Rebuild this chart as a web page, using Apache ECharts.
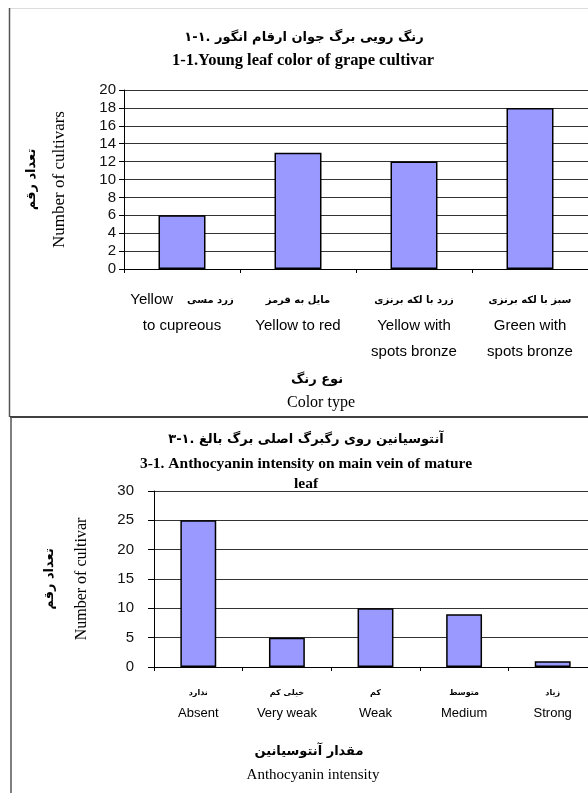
<!DOCTYPE html>
<html><head><meta charset="utf-8">
<script src="https://cdn.jsdelivr.net/npm/echarts@6/dist/echarts.min.js"></script>
<style>html,body{margin:0;padding:0;background:#fff;}#c{width:588px;height:793px;}</style>
</head><body><div id="c"></div>
<script>
// ---- data ----
const colorTypeFa = ['زرد مسی', 'مایل به قرمز', 'زرد با لکه برنزی', 'سبز با لکه برنزی'];
const colorTypeEn = ['Yellow\nto cupreous', 'Yellow to red', 'Yellow with\nspots bronze', 'Green with\nspots bronze'];
const colorTypeCounts = [6, 13, 12, 18];

const anthoFa = ['ندارد', 'خیلی کم', 'کم', 'متوسط', 'زیاد'];
const anthoEn = ['Absent', 'Very weak', 'Weak', 'Medium', 'Strong'];
const anthoCounts = [25, 5, 10, 9, 1];

const yTicks1 = [0, 2, 4, 6, 8, 10, 12, 14, 16, 18, 20];
const yTicks2 = [0, 5, 10, 15, 20, 25, 30];

const title1Fa = '۱-۱. رنگ رویی برگ جوان ارقام انگور';
const title1En = '1-1.Young leaf color of grape cultivar';
const title2Fa = '۳-۱. آنتوسیانین روی رگبرگ اصلی برگ بالغ';
const title2En = '3-1. Anthocyanin intensity on main vein of mature\nleaf';

// ---- styles ----
const FA = 'DejaVu Sans';
const SERIF = 'Liberation Serif';
const SANS = 'Liberation Sans';
const barColor = '#9999FF';
const LRM = '\u200E';

const chart = echarts.init(document.getElementById('c'));

function label1(value, i) {
  const en = colorTypeEn[i].split('\n');
  if (i === 0) {
    return '{en|' + en[0] + '}{gap|}{fa|' + colorTypeFa[i] + '}\n{en|' + en[1] + '}';
  }
  return '{fa|' + colorTypeFa[i] + '}\n' + en.map(s => '{en|' + s + '}').join('\n');
}
function label2(value, i) {
  return '{fa|' + anthoFa[i] + '}\n{en|' + anthoEn[i] + '}';
}

const option = {
  animation: false,
  backgroundColor: '#fff',
  title: [
    { text: LRM + title1Fa, left: 299, top: 26, textAlign: 'center',
      textStyle: { fontFamily: FA, fontWeight: 'bold', fontSize: 13, color: '#000' } },
    { text: title1En, left: 298, top: 47, textAlign: 'center',
      textStyle: { fontFamily: SERIF, fontWeight: 'bold', fontSize: 16.5, color: '#000' } },
    { text: LRM + 'نوع رنگ', left: 312, top: 368, textAlign: 'center',
      textStyle: { fontFamily: FA, fontWeight: 'bold', fontSize: 13, color: '#000' } },
    { text: 'Color type', left: 316, top: 390, textAlign: 'center',
      textStyle: { fontFamily: SERIF, fontWeight: 'normal', fontSize: 16, color: '#000' } },
    { text: LRM + title2Fa, left: 301, top: 428, textAlign: 'center',
      textStyle: { fontFamily: FA, fontWeight: 'bold', fontSize: 13, color: '#000' } },
    { text: title2En, left: 301, top: 449, textAlign: 'center',
      textStyle: { fontFamily: SERIF, fontWeight: 'bold', fontSize: 15.5, color: '#000', lineHeight: 20 } },
    { text: LRM + 'مقدار آنتوسیانین', left: 304, top: 740, textAlign: 'center',
      textStyle: { fontFamily: FA, fontWeight: 'bold', fontSize: 13, color: '#000' } },
    { text: 'Anthocyanin intensity', left: 308, top: 763, textAlign: 'center',
      textStyle: { fontFamily: SERIF, fontWeight: 'normal', fontSize: 15, color: '#000' } }
  ],
  graphic: [
    { type: 'line', shape: { x1: 10, y1: 8.5, x2: 588, y2: 8.5 }, style: { stroke: '#ddd', lineWidth: 1 } },
    { type: 'line', shape: { x1: 9.5, y1: 8, x2: 9.5, y2: 417 }, style: { stroke: '#555', lineWidth: 1.5 } },
    { type: 'line', shape: { x1: 10, y1: 417, x2: 588, y2: 417 }, style: { stroke: '#000', lineWidth: 1.5 } },
    { type: 'line', shape: { x1: 11, y1: 417, x2: 11, y2: 793 }, style: { stroke: '#555', lineWidth: 1.5 } }
  ],
  grid: [
    { left: 124, top: 90, width: 464, height: 179, containLabel: false, outerBoundsMode: 'none' },
    { left: 154, top: 491, width: 443, height: 176, containLabel: false, outerBoundsMode: 'none' }
  ],
  xAxis: [
    { type: 'category', gridIndex: 0, data: colorTypeEn,
      axisLine: { lineStyle: { color: '#000', width: 1 } },
      axisTick: { show: true, length: 4, lineStyle: { color: '#000' } },
      axisLabel: { interval: 0, margin: 18, formatter: label1, hideOverlap: false,
        rich: {
          fa: { fontFamily: FA, fontWeight: 'bold', fontSize: 10, color: '#000', lineHeight: 26 },
          en: { fontFamily: SANS, fontSize: 15, color: '#000', lineHeight: 26 },
          gap: { width: 14 }
        } } },
    { type: 'category', gridIndex: 1, data: anthoEn,
      axisLine: { lineStyle: { color: '#000', width: 1 } },
      axisTick: { show: true, length: 4, lineStyle: { color: '#000' } },
      axisLabel: { interval: 0, margin: 16, formatter: label2, hideOverlap: false,
        rich: {
          fa: { fontFamily: FA, fontWeight: 'bold', fontSize: 8, color: '#000', lineHeight: 20 },
          en: { fontFamily: SANS, fontSize: 13, color: '#000', lineHeight: 20 }
        } } }
  ],
  yAxis: [
    { type: 'value', gridIndex: 0, min: yTicks1[0], max: yTicks1[yTicks1.length - 1], interval: yTicks1[1] - yTicks1[0],
      name: '{fa|' + LRM + 'تعداد رقم}\n{en|Number of cultivars}', nameLocation: 'middle', nameRotate: 90, nameGap: 50,
      nameTextStyle: { rich: {
        fa: { fontFamily: FA, fontWeight: 'bold', fontSize: 13, color: '#000', lineHeight: 28 },
        en: { fontFamily: SERIF, fontSize: 17, color: '#000', lineHeight: 28 } } },
      axisLine: { show: true, lineStyle: { color: '#000' } },
      axisTick: { show: true, length: 5, lineStyle: { color: '#000' } },
      axisLabel: { margin: 8, fontFamily: SANS, fontSize: 15, color: '#111' },
      splitLine: { show: true, lineStyle: { color: '#333', width: 1 } } },
    { type: 'value', gridIndex: 1, min: yTicks2[0], max: yTicks2[yTicks2.length - 1], interval: yTicks2[1] - yTicks2[0],
      name: '{fa|' + LRM + 'تعداد رقم}\n{en|Number of cultivar}', nameLocation: 'middle', nameRotate: 90, nameGap: 56,
      nameTextStyle: { rich: {
        fa: { fontFamily: FA, fontWeight: 'bold', fontSize: 13, color: '#000', lineHeight: 32 },
        en: { fontFamily: SERIF, fontSize: 16, color: '#000', lineHeight: 32 } } },
      axisLine: { show: true, lineStyle: { color: '#000' } },
      axisTick: { show: true, length: 6, lineStyle: { color: '#000' } },
      axisLabel: { margin: 20, fontFamily: SANS, fontSize: 15, color: '#111' },
      splitLine: { show: true, lineStyle: { color: '#333', width: 1 } } }
  ],
  series: [
    { type: 'bar', xAxisIndex: 0, yAxisIndex: 0, data: colorTypeCounts, barWidth: '40.5%',
      itemStyle: { color: barColor, borderColor: '#000', borderWidth: 1.5 } },
    { type: 'bar', xAxisIndex: 1, yAxisIndex: 1, data: anthoCounts, barWidth: '40.5%',
      itemStyle: { color: barColor, borderColor: '#000', borderWidth: 1.5 } }
  ]
};
chart.setOption(option);
</script>
</body></html>
